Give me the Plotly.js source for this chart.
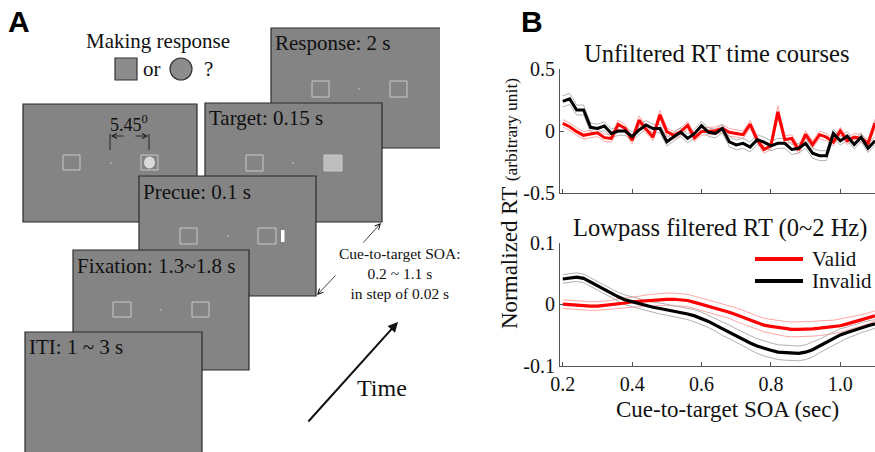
<!DOCTYPE html>
<html><head><meta charset="utf-8">
<script src="https://cdn.plot.ly/plotly-3.0.1.min.js"></script>
<style>html,body{margin:0;padding:0;background:#fff}</style>
</head><body><div id="chart" style="width:875px;height:452px"></div>
<script>
// SOA values (sec), 0.2 to 1.1 in steps of 0.02
const soa = [0.20,0.22,0.24,0.26,0.28,0.30,0.32,0.34,0.36,0.38,0.40,0.42,0.44,0.46,0.48,0.50,0.52,0.54,0.56,0.58,0.60,0.62,0.64,0.66,0.68,0.70,0.72,0.74,0.76,0.78,0.80,0.82,0.84,0.86,0.88,0.90,0.92,0.94,0.96,0.98,1.00,1.02,1.04,1.06,1.08,1.10];
// Unfiltered normalized RT
const rawValid = [0.062,0.035,-0.005,-0.035,-0.025,-0.015,-0.054,-0.06,0.054,0.02,-0.075,0.087,0.015,-0.05,0.132,-0.005,-0.035,-0.005,0.045,-0.055,-0.005,0.0,0.003,0.022,-0.01,-0.02,-0.03,0.055,-0.07,-0.15,-0.12,0.155,-0.07,-0.06,-0.154,-0.027,-0.11,-0.03,-0.05,-0.09,0.0,-0.08,-0.05,-0.06,-0.1,0.065];
const rawInvalid = [0.24,0.26,0.17,0.17,0.03,0.02,0.04,-0.02,0.0,0.0,-0.046,0.008,0.049,0.02,0.02,-0.087,-0.046,-0.01,-0.06,-0.02,0.043,-0.01,-0.02,0.02,-0.087,-0.113,-0.1,-0.13,-0.07,-0.09,-0.12,-0.1,-0.1,-0.15,-0.14,-0.1,-0.18,-0.2,-0.2,-0.02,-0.08,-0.04,-0.11,-0.05,-0.14,-0.08];
const rawValidSE = [0.03,0.03,0.03,0.03,0.03,0.03,0.03,0.03,0.035,0.03,0.03,0.035,0.03,0.03,0.035,0.03,0.03,0.03,0.03,0.03,0.03,0.03,0.03,0.03,0.03,0.03,0.03,0.03,0.03,0.03,0.03,0.05,0.03,0.03,0.03,0.03,0.03,0.03,0.03,0.03,0.03,0.03,0.03,0.03,0.03,0.03];
const rawInvalidSE = [0.045,0.045,0.04,0.04,0.035,0.035,0.035,0.035,0.035,0.035,0.035,0.035,0.035,0.035,0.035,0.035,0.035,0.035,0.035,0.035,0.035,0.035,0.035,0.035,0.04,0.04,0.04,0.04,0.04,0.04,0.04,0.04,0.04,0.04,0.04,0.04,0.04,0.04,0.04,0.035,0.035,0.035,0.035,0.035,0.035,0.035];
// Lowpass filtered RT (0~2 Hz)
const lpValid = [0.000,-0.001,-0.002,-0.003,-0.003,-0.003,-0.002,-0.001,0.001,0.002,0.004,0.005,0.006,0.007,0.008,0.008,0.008,0.007,0.006,0.003,0.000,-0.003,-0.006,-0.009,-0.013,-0.017,-0.021,-0.026,-0.030,-0.034,-0.036,-0.038,-0.040,-0.041,-0.041,-0.041,-0.040,-0.039,-0.038,-0.037,-0.035,-0.032,-0.029,-0.026,-0.023,-0.019];
const lpInvalid = [0.041,0.043,0.044,0.042,0.036,0.029,0.023,0.017,0.012,0.007,0.004,0.001,-0.003,-0.005,-0.007,-0.009,-0.011,-0.014,-0.016,-0.019,-0.023,-0.028,-0.034,-0.040,-0.045,-0.051,-0.057,-0.063,-0.068,-0.072,-0.075,-0.078,-0.079,-0.080,-0.080,-0.078,-0.074,-0.068,-0.062,-0.056,-0.050,-0.046,-0.042,-0.038,-0.035,-0.032];
const lpValidSE = [0.007,0.007,0.007,0.007,0.007,0.007,0.007,0.007,0.008,0.008,0.008,0.008,0.009,0.009,0.010,0.010,0.010,0.010,0.010,0.010,0.010,0.010,0.010,0.010,0.010,0.011,0.011,0.011,0.011,0.011,0.011,0.012,0.012,0.012,0.012,0.012,0.012,0.012,0.011,0.011,0.011,0.010,0.010,0.009,0.009,0.008];
const lpInvalidSE = [0.007,0.007,0.007,0.007,0.007,0.007,0.007,0.007,0.007,0.008,0.008,0.008,0.008,0.008,0.009,0.009,0.009,0.009,0.009,0.010,0.010,0.010,0.010,0.011,0.011,0.011,0.011,0.012,0.012,0.012,0.012,0.012,0.012,0.012,0.012,0.012,0.012,0.011,0.011,0.010,0.010,0.009,0.009,0.008,0.008,0.007];
const xTicks = [0.2,0.4,0.6,0.8,1.0];
const xTickText = ['0.2','0.4','0.6','0.8','1.0'];
const yTopTicks = [-0.5,0,0.5];
const yTopText = ['-0.5','0','0.5'];
const yBotTicks = [-0.1,0,0.1];
const yBotText = ['-0.1','0','0.1'];
const seriesNames = ['Valid','Invalid'];

const RED='#ff0000', LRED='#ff9c9c', BLK='#000000', LGRY='#a8a8a8';
const add=(a,b,s)=>a.map((v,i)=>v+s*b[i]);
function band(x,y,se,col,xa,ya){
  return [1,-1].map(s=>({x:x,y:add(y,se,s),type:'scatter',mode:'lines',line:{color:col,width:0.9},xaxis:xa,yaxis:ya,showlegend:false,hoverinfo:'skip'}));
}
const traces=[
  ...band(soa,rawValid,rawValidSE,LRED,'x','y'),
  ...band(soa,rawInvalid,rawInvalidSE,LGRY,'x','y'),
  {x:soa,y:rawValid,type:'scatter',mode:'lines',line:{color:RED,width:3},xaxis:'x',yaxis:'y',showlegend:false},
  {x:soa,y:rawInvalid,type:'scatter',mode:'lines',line:{color:BLK,width:3},xaxis:'x',yaxis:'y',showlegend:false},
  ...band(soa,lpValid,lpValidSE,LRED,'x2','y2'),
  ...band(soa,lpInvalid,lpInvalidSE,LGRY,'x2','y2'),
  {x:soa,y:lpValid,type:'scatter',mode:'lines',line:{color:RED,width:3.2},xaxis:'x2',yaxis:'y2',name:seriesNames[0],showlegend:false},
  {x:soa,y:lpInvalid,type:'scatter',mode:'lines',line:{color:BLK,width:3.2},xaxis:'x2',yaxis:'y2',name:seriesNames[1],showlegend:false}
];

const SERIF='"Liberation Serif", "Times New Roman", serif';
const SANS='"Liberation Sans", Arial, sans-serif';
const axCommon={showgrid:false,zeroline:false,showline:true,linecolor:'#555',linewidth:1,ticks:'inside',ticklen:4,tickcolor:'#555',tickfont:{family:SERIF,size:20,color:'#111'},fixedrange:true};

// Panel A drawn in pixel space on a hidden axis pair (x3,y3)
const shapes=[];
const ann=[];
function screen(x0,y0,x1,y1){shapes.push({type:'rect',xref:'x3',yref:'y3',x0:x0,y0:y0,x1:x1,y1:y1,fillcolor:'#848484',line:{color:'#2a2a2a',width:1.2},layer:'above'});}
function box(x0,y0,x1,y1,fill){shapes.push({type:'rect',xref:'x3',yref:'y3',x0:x0,y0:y0,x1:x1,y1:y1,fillcolor:fill||'rgba(0,0,0,0)',line:{color:'#c8c8c8',width:1},layer:'above'});}
function dot(x,y){shapes.push({type:'circle',xref:'x3',yref:'y3',x0:x-0.8,y0:y-0.8,x1:x+0.8,y1:y+0.8,fillcolor:'#d0d0d0',line:{width:0},layer:'above'});}
function txt(x,y,t,size,anchor){ann.push({xref:'x3',yref:'y3',x:x,y:y,text:t,showarrow:false,xanchor:anchor||'left',yanchor:'middle',font:{family:SERIF,size:size||21,color:'#111'}});}
function arrow(x,y,ax,ay,w,head,size){ann.push({xref:'x3',yref:'y3',axref:'x3',ayref:'y3',x:x,y:y,ax:ax,ay:ay,text:'',showarrow:true,arrowhead:head,arrowwidth:w,arrowsize:size||1,arrowcolor:'#111'});}

// Response screen
screen(271,28,441,148); txt(273,43,'Response: 2 s');
box(312,81,329,97); dot(359,89); box(390,81,407,97);
// Left (target example) screen
screen(23,104,197,222);
box(63,155,80,170); dot(111,163); box(141,155,158,170);
shapes.push({type:'circle',xref:'x3',yref:'y3',x0:144,y0:156.5,x1:155,y1:168.5,fillcolor:'#dadada',line:{width:0},layer:'above'});
txt(129,123,'5.45<sup>0</sup>',18,'center');
shapes.push({type:'line',xref:'x3',yref:'y3',x0:110,y0:134,x1:110,y1:150,line:{color:'#222',width:1},layer:'above'});
shapes.push({type:'line',xref:'x3',yref:'y3',x0:149,y0:134,x1:149,y1:150,line:{color:'#222',width:1},layer:'above'});
arrow(111,136,125,136,0.8,5,1.2);
arrow(148,136,134,136,0.8,5,1.2);
// Target screen
screen(205,103,382,222); txt(207,118,'Target: 0.15 s');
box(246,155,263,171); dot(293,163); box(324,155,342,171,'#bdbdbd');
// Precue screen
screen(139,176,316,296); txt(141,192,'Precue: 0.1 s');
box(180,228,197,244); dot(228,236); box(258,228,276,244);
shapes.push({type:'rect',xref:'x3',yref:'y3',x0:281,y0:230,x1:284.5,y1:242,fillcolor:'#ffffff',line:{width:0},layer:'above'});
// Fixation screen
screen(73,250,249,370); txt(75,266,'Fixation: 1.3~1.8 s');
box(113,302,131,317); dot(161,310); box(192,302,209,317);
// ITI screen
screen(25,332,202,453); txt(27,347,'ITI: 1 ~ 3 s');
// Making response
txt(158,41,'Making response',21,'center');
shapes.push({type:'rect',xref:'x3',yref:'y3',x0:115,y0:58,x1:137,y1:80,fillcolor:'#8c8c8c',line:{color:'#333',width:1.2}});
txt(152,69,'or',21,'center');
shapes.push({type:'circle',xref:'x3',yref:'y3',x0:170,y0:58,x1:192,y1:80,fillcolor:'#8c8c8c',line:{color:'#333',width:1.2}});
txt(208,69,'?',21,'center');
// SOA arrows + text (one block)
arrow(381,223,362,244,0.8,5,1.3);
arrow(317,295,337,274,0.8,5,1.3);
ann.push({xref:'x3',yref:'y3',x:400,y:273,text:'Cue-to-target SOA:<br>0.2 ~ 1.1 s<br>in step of 0.02 s',showarrow:false,xanchor:'center',yanchor:'middle',align:'center',font:{family:SERIF,size:15.5,color:'#111'}});
// Time arrow
arrow(398,322,307,423,2,2,1);
txt(382,388,'Time',24,'center');

// Panel letters
ann.push({xref:'paper',yref:'paper',x:6/875,y:1-21/452,text:'<b>A</b>',showarrow:false,xanchor:'left',yanchor:'middle',font:{family:SANS,size:30,color:'#000'}});
ann.push({xref:'paper',yref:'paper',x:519/875,y:1-21/452,text:'<b>B</b>',showarrow:false,xanchor:'left',yanchor:'middle',font:{family:SANS,size:30,color:'#000'}});
// Panel B subplot titles
ann.push({xref:'paper',yref:'paper',x:716/875,y:1-53/452,text:'Unfiltered RT time courses',showarrow:false,xanchor:'center',yanchor:'middle',font:{family:SERIF,size:24.5,color:'#111'}});
ann.push({xref:'paper',yref:'paper',x:720/875,y:1-228/452,text:'Lowpass filtered RT (0~2 Hz)',showarrow:false,xanchor:'center',yanchor:'middle',font:{family:SERIF,size:24.5,color:'#111'}});
// x axis title (bottom)
ann.push({xref:'paper',yref:'paper',x:727/875,y:1-409/452,text:'Cue-to-target SOA (sec)',showarrow:false,xanchor:'center',yanchor:'middle',font:{family:SERIF,size:23,color:'#111'}});
// Shared y title
ann.push({xref:'paper',yref:'paper',x:509/875,y:1-204/452,text:'Normalized RT <span style="font-size:17.5px">(arbitrary unit)</span>',showarrow:false,textangle:-90,xanchor:'center',yanchor:'middle',font:{family:SERIF,size:23,color:'#111'}});
// Legend (line samples + labels)
shapes.push({type:'line',xref:'paper',yref:'paper',x0:755/875,x1:803/875,y0:1-259/452,y1:1-259/452,line:{color:RED,width:4}});
shapes.push({type:'line',xref:'paper',yref:'paper',x0:755/875,x1:803/875,y0:1-281/452,y1:1-281/452,line:{color:BLK,width:4}});
ann.push({xref:'paper',yref:'paper',x:810/875,y:1-259/452,text:seriesNames[0],showarrow:false,xanchor:'left',yanchor:'middle',font:{family:SERIF,size:21,color:'#111'}});
ann.push({xref:'paper',yref:'paper',x:810/875,y:1-281/452,text:seriesNames[1],showarrow:false,xanchor:'left',yanchor:'middle',font:{family:SERIF,size:21,color:'#111'}});

const layout={
  width:875,height:452,margin:{l:0,r:0,t:0,b:0},paper_bgcolor:'#fff',plot_bgcolor:'rgba(0,0,0,0)',
  showlegend:false,
  xaxis:Object.assign({},axCommon,{domain:[560/875,1],range:[0.192,1.1],anchor:'y',tickvals:xTicks,showticklabels:false}),
  yaxis:Object.assign({},axCommon,{domain:[(452-192.7)/452,(452-69.3)/452],range:[-0.5,0.5],anchor:'x',tickvals:yTopTicks,ticktext:yTopText}),
  xaxis2:Object.assign({},axCommon,{domain:[560/875,1],range:[0.192,1.1],anchor:'y2',tickvals:xTicks,ticktext:xTickText}),
  yaxis2:Object.assign({},axCommon,{domain:[(452-365.7)/452,(452-242.7)/452],range:[-0.1,0.1],anchor:'x2',tickvals:yBotTicks,ticktext:yBotText}),
  xaxis3:{domain:[0,440/875],range:[0,440],visible:false,fixedrange:true,anchor:'y3'},
  yaxis3:{domain:[0,1],range:[452,0],visible:false,fixedrange:true,anchor:'x3'},
  shapes:shapes,annotations:ann
};
// invisible anchor trace so x3/y3 exist
traces.unshift({x:[0],y:[0],xaxis:'x3',yaxis:'y3',mode:'markers',marker:{opacity:0},showlegend:false,hoverinfo:'skip'});
Plotly.newPlot('chart',traces,layout,{staticPlot:true,displayModeBar:false});
</script></body></html>
